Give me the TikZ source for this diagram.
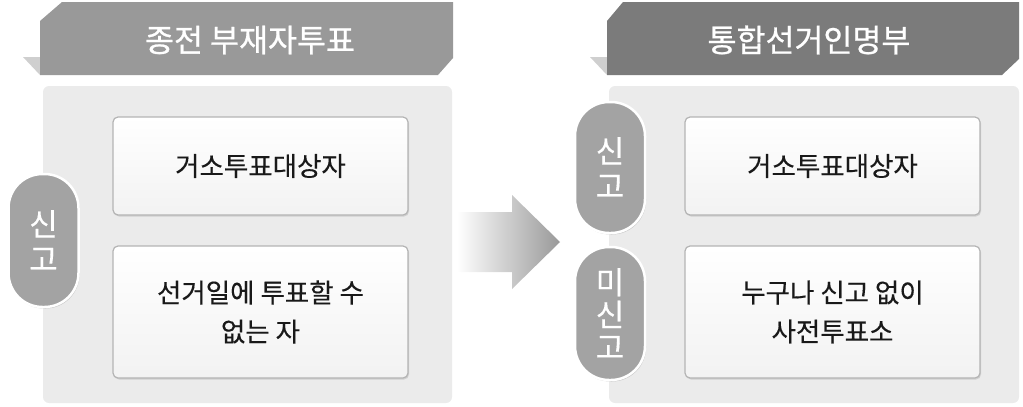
\documentclass[tikz,border=0pt]{standalone}
\usepackage{fontspec}
\setmainfont{Noto Sans CJK KR}
\newfontfamily\krmed{Noto Sans CJK KR}[FakeBold=0.8]
\newfontfamily\krreg{Noto Sans CJK KR}[FakeBold=0.3]
\usetikzlibrary{shadows}

\definecolor{bannerA}{HTML}{999999}
\definecolor{bannerB}{HTML}{7B7B7B}
\definecolor{foldgray}{HTML}{CFCFCF}
\definecolor{panelgray}{HTML}{EBEBEB}
\definecolor{pillgray}{HTML}{A3A3A3}
\definecolor{boxline}{HTML}{B4B4B4}

\tikzset{
    panel/.style={rectangle, rounded corners=6pt, fill=panelgray,
        minimum width=409pt, minimum height=317pt},
    itembox/.style={rectangle, rounded corners=5pt, draw=boxline, line width=1.2pt,
        top color=white, bottom color=gray!10, align=center, text=black!90,
        font=\krreg\fontsize{26.5}{39}\selectfont, minimum width=295pt,
        drop shadow={opacity=0.25, shadow xshift=1pt, shadow yshift=-1.5pt}},
    pill/.style={rectangle, rounded corners=34pt, fill=pillgray, draw=white,
        line width=2.5pt, text=white, align=center, minimum width=70pt,
        font=\krreg\fontsize{31}{35}\selectfont,
        drop shadow={opacity=0.35, shadow xshift=1pt, shadow yshift=-1.5pt}},
    title/.style={text=white, font=\krmed\fontsize{31.5}{34}\selectfont}
}

\begin{document}
\begin{tikzpicture}[x=1pt, y=-1pt]
\useasboundingbox (0, 0) rectangle (1023, 407);

% banners
\fill[foldgray] (23, 57) -- (40, 57) -- (40, 75) -- cycle;
\fill[bannerA] (40, 21) -- (62, 2) -- (453, 2) -- (453, 58) -- (438, 75) -- (40, 75) -- cycle;
\fill[foldgray] (590, 57) -- (607, 57) -- (607, 75) -- cycle;
\fill[bannerB] (607, 21) -- (623, 2) -- (1019, 2) -- (1019, 59) -- (1002, 75) -- (607, 75) -- cycle;

\node (oldtitle) at (250, 40) [title] {종전 부재자투표};
\node (newtitle) at (809, 40) [title] {통합선거인명부};

% panels
\node (oldpanel) at (247.5, 244.5) [panel] {};
\node (newpanel) at (814, 244.5) [panel, minimum width=410pt] {};

% left side
\node (oldabs) at (260.5, 166) [itembox, minimum height=98pt] {거소투표대상자};
\node (oldday) at (260.5, 312) [itembox, minimum height=132pt] {선거일에 투표할 수\\없는 자};
\node (oldreport) at (43.5, 240.5) [pill, minimum height=133pt] {신\\고};

% arrow
\shade[left color=white, right color=gray!80]
    (457, 212) -- (512, 212) -- (512, 195) -- (560, 242) -- (512, 289)
    -- (512, 272) -- (457, 272) -- cycle;

% right side
\node (newabs) at (832.5, 166) [itembox, minimum height=98pt] {거소투표대상자};
\node (newany) at (832.5, 312) [itembox, minimum height=132pt] {누구나 신고 없이\\사전투표소};
\node (newreport) at (610, 167.5) [pill, minimum height=131pt] {신\\고};
\node (newnoreport) at (610, 313.5) [pill, minimum height=133pt,
    font=\krreg\fontsize{31}{32.5}\selectfont] {미\\신\\고};
\end{tikzpicture}
\end{document}
